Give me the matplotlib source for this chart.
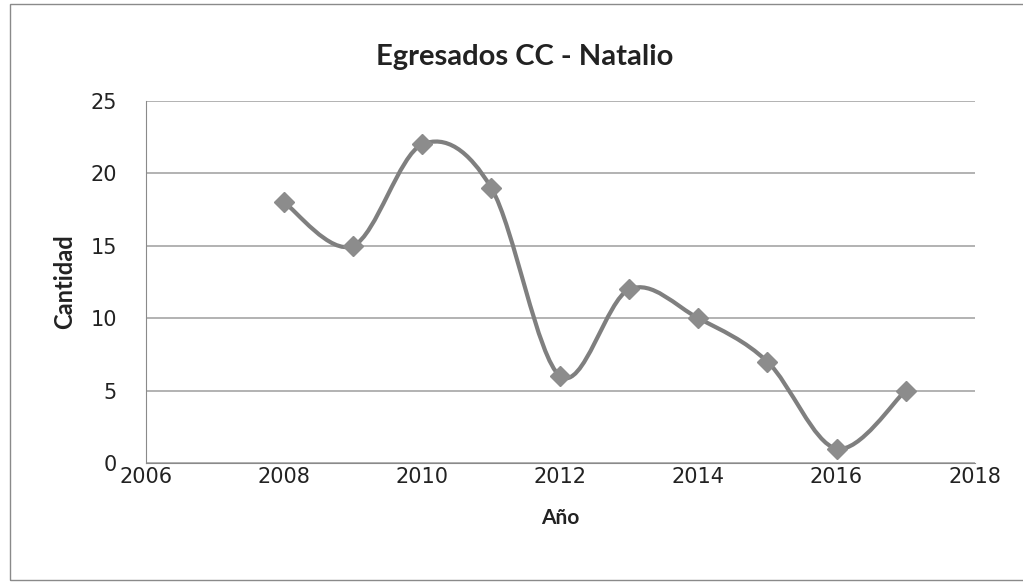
import matplotlib
matplotlib.use("Agg")
import matplotlib.pyplot as plt
from matplotlib.path import Path
from matplotlib.patches import PathPatch, Rectangle
import numpy as np

years = [2008, 2009, 2010, 2011, 2012, 2013, 2014, 2015, 2016, 2017]
cantidad = [18, 15, 22, 19, 6, 12, 10, 7, 1, 5]
yticks = [0, 5, 10, 15, 20, 25]
xticks = [2006, 2008, 2010, 2012, 2014, 2016, 2018]
title = "Egresados CC - Natalio"
xlabel = "Año"
ylabel = "Cantidad"

fig = plt.figure(figsize=(10.23, 5.87), dpi=100)
fig.patches.append(Rectangle((0.01, 0.012), 1.2, 0.982, transform=fig.transFigure,
                             fill=False, edgecolor="#8a8a8a", lw=1.0))
ax = fig.add_axes([0.1427, 0.211, 0.81, 0.617])

# Excel-like smoothed line (Bezier through the data points)
x = np.array(years, dtype=float)
y = np.array(cantidad, dtype=float)
n = len(x)
verts = [(x[0], y[0])]
codes = [Path.MOVETO]
for i in range(n - 1):
    i0 = max(i - 1, 0)
    i3 = min(i + 2, n - 1)
    c1 = (x[i] + (x[i + 1] - x[i0]) / 6, y[i] + (y[i + 1] - y[i0]) / 6)
    c2 = (x[i + 1] - (x[i3] - x[i]) / 6, y[i + 1] - (y[i3] - y[i]) / 6)
    verts += [c1, c2, (x[i + 1], y[i + 1])]
    codes += [Path.CURVE4] * 3
ax.add_patch(PathPatch(Path(verts, codes), fill=False, edgecolor="#7f7f7f", lw=3, zorder=3))
ax.plot(years, cantidad, linestyle="none", marker="D", markersize=10,
        markerfacecolor="#8c8c8c", markeredgecolor="#8c8c8c", zorder=4)

ax.set_xlim(2006, 2018)
ax.set_ylim(0, 25)
ax.set_xticks(xticks)
ax.set_yticks(yticks)
ax.grid(axis="y", color="#a6a6a6", lw=1.2)
ax.set_axisbelow(True)
for s in ["top", "right"]:
    ax.spines[s].set_visible(False)
ax.spines["left"].set_color("#8a8a8a")
ax.spines["bottom"].set_color("#8a8a8a")
ax.tick_params(length=0, labelsize=15, colors="#222222")
ax.tick_params(axis="x", pad=3)
ax.tick_params(axis="y", pad=21)
for lbl in ax.get_xticklabels() + ax.get_yticklabels():
    lbl.set_family("DejaVu Sans")
ax.set_xlabel(xlabel, fontsize=15, fontweight="bold", family="Lato", labelpad=15, color="#222222")
ax.set_ylabel(ylabel, fontsize=17, fontweight="bold", family="Lato", labelpad=10, color="#222222")
fig.text(0.513, 0.903, title, ha="center", va="center", fontsize=21, fontweight="bold",
         family="Lato", color="#222222")

fig.savefig("out.png", dpi=100)
